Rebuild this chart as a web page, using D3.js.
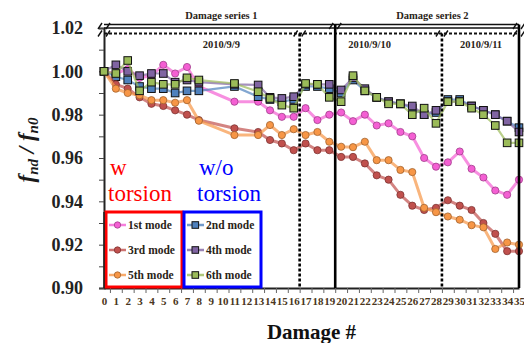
<!DOCTYPE html>
<html>
<head>
<meta charset="utf-8">
<script src="https://cdn.jsdelivr.net/npm/d3@7"></script>
<style>
  body { margin: 0; background: #fff; }
  svg { display: block; }
  text { font-family: "Liberation Serif", "DejaVu Serif", serif; }
</style>
</head>
<body>
<div id="chart"></div>
<script>
// damage cases on the x axis
const damage = [0,1,2,3,4,5,6,7,8,9,10,11,12,13,14,15,16,17,18,19,20,21,22,23,24,25,26,27,28,29,30,31,32,33,34,35];

// frequency ratio f_nd / f_n0 for each mode (null = case not measured)
const mode1 = [1.000,0.999,1.001,0.997,0.998,1.003,0.999,1.002,0.993,null,null,0.986,null,0.986,0.982,0.979,0.979,0.983,0.9775,0.980,0.981,0.977,0.980,0.975,0.976,0.972,0.970,0.960,0.956,0.958,0.963,0.955,0.951,0.945,0.943,0.950];
const mode2 = [1.000,0.9975,0.996,0.993,0.992,0.992,0.990,0.991,0.991,null,null,0.993,null,0.9883,0.987,0.986,0.987,0.993,0.993,0.992,0.990,0.996,0.991,0.988,0.986,0.985,0.983,0.980,0.981,0.987,0.987,0.984,0.982,0.980,0.977,0.974];
const mode3 = [1.000,0.994,0.992,0.988,0.985,0.984,0.982,0.980,0.9775,null,null,0.9737,null,0.972,0.9683,0.9667,0.9636,0.9667,0.9636,0.9636,0.9605,0.9605,0.9575,0.952,0.950,0.943,0.938,0.936,0.937,0.9405,0.938,0.936,0.930,0.925,0.917,0.917];
const mode4 = [1.000,1.003,1.000,0.998,0.999,0.999,0.995,0.996,0.995,null,null,0.994,null,0.9937,0.988,0.9875,0.9883,0.994,0.994,0.994,0.9914,0.997,0.992,0.988,0.986,0.985,0.984,0.980,0.982,0.986,0.986,0.984,0.982,0.980,0.977,0.972];
const mode5 = [1.000,0.992,0.990,0.989,0.9867,0.9867,0.9855,0.9867,0.9772,null,null,0.9706,null,0.9706,0.9752,0.9706,0.9733,0.9706,0.972,0.9675,0.9652,0.965,0.9675,0.959,0.959,0.9545,0.9535,0.937,0.935,0.933,0.9315,0.929,0.928,0.918,0.921,0.920];
const mode6 = [1.000,0.999,1.005,0.991,0.995,0.994,0.994,0.997,0.996,null,null,0.9944,null,0.9906,0.9875,0.9844,0.983,0.9944,0.994,0.988,0.986,0.998,0.991,0.988,0.985,0.985,0.980,0.983,0.976,0.986,0.986,0.983,0.980,0.975,0.967,0.967];

const modeNames = ["1st mode","2nd mode","3rd mode","4th mode","5th mode","6th mode"];
const yTicks = [0.90,0.91,0.92,0.93,0.94,0.95,0.96,0.97,0.98,0.99,1.00,1.01,1.02];

// breaks between damage series (solid) and between test days (dashed)
const seriesBreaks = [19.5];
const dayBreaks = [16.5, 28.5];
const seriesLabels = ["Damage series 1","Damage series 2"];
const dayLabels = ["2010/9/9","2010/9/10","2010/9/11"];

const width = 524, height = 343;
const svg = d3.select('#chart').append('svg')
    .attr('width', width)
    .attr('height', height);

const x = d3.scaleLinear().domain([0, 35]).range([104, 519]);
const y = d3.scaleLinear().domain([0.90, 1.02]).range([288, 28]);

const series = [
    { name: modeNames[0], values: mode1, color: '#f45fd3', shape: 'circle' },
    { name: modeNames[1], values: mode2, color: '#4f81bd', shape: 'square' },
    { name: modeNames[2], values: mode3, color: '#c0504d', shape: 'circle' },
    { name: modeNames[3], values: mode4, color: '#8064a2', shape: 'square' },
    { name: modeNames[4], values: mode5, color: '#f79646', shape: 'circle' },
    { name: modeNames[5], values: mode6, color: '#9bbb59', shape: 'square' }
];

// y axis
const yAxis = svg.append('g')
    .attr('transform', `translate(${x(0)},0)`)
    .call(d3.axisLeft(y)
        .tickValues(yTicks)
        .tickSize(5)
        .tickPadding(16)
        .tickFormat(d => Math.round(d * 100) % 2 === 0 ? d3.format('.2f')(d) : ''));
yAxis.select('.domain').attr('stroke', '#222').attr('stroke-width', 2);
yAxis.selectAll('.tick line').attr('stroke', '#444');
yAxis.selectAll('.tick text')
    .style('font-size', '18px')
    .style('font-weight', 'bold')
    .attr('fill', '#222');

// x axis: labels on categories, ticks between them
const xAxis = svg.append('g')
    .attr('transform', `translate(0,${y(0.90)})`)
    .call(d3.axisBottom(x)
        .tickValues(damage)
        .tickSize(0)
        .tickPadding(9)
        .tickFormat(d3.format('d')));
xAxis.select('.domain').attr('stroke', '#222').attr('stroke-width', 2);
xAxis.selectAll('.tick text')
    .style('font-size', '11px')
    .style('font-weight', 'bold')
    .attr('fill', '#4a3620');

svg.append('g')
    .attr('transform', `translate(0,${y(0.90)})`)
    .call(d3.axisBottom(x)
        .tickValues(damage.slice(1).map(d => d - 0.5))
        .tickSize(5)
        .tickFormat(''))
    .call(g => g.select('.domain').remove())
    .selectAll('.tick line').attr('stroke', '#666');

// series (gaps are bridged, as in the original)
const line = d3.line()
    .x(d => x(d[0]))
    .y(d => y(d[1]));

series.forEach(s => {
    const pts = damage.map((d, i) => [d, s.values[i]]).filter(p => p[1] != null);
    const g = svg.append('g');
    g.append('path')
        .datum(pts)
        .attr('fill', 'none')
        .attr('stroke', s.color)
        .attr('stroke-opacity', 0.7)
        .attr('stroke-width', s.shape === 'circle' ? 3 : 2.2)
        .attr('d', line);
    if (s.shape === 'circle') {
        g.selectAll('circle')
            .data(pts)
            .enter().append('circle')
            .attr('cx', d => x(d[0]))
            .attr('cy', d => y(d[1]))
            .attr('r', 3.6)
            .attr('fill', s.color)
            .attr('stroke', d3.color(s.color).darker(1.2))
            .attr('stroke-width', 0.8);
    } else {
        g.selectAll('rect')
            .data(pts)
            .enter().append('rect')
            .attr('x', d => x(d[0]) - 3.8)
            .attr('y', d => y(d[1]) - 3.8)
            .attr('width', 7.6)
            .attr('height', 7.6)
            .attr('fill', s.color)
            .attr('stroke', '#111')
            .attr('stroke-width', 1);
    }
});

// top bracket lines
const topY = y(1.02);
svg.append('line')
    .attr('x1', x(0)).attr('x2', x(35))
    .attr('y1', topY).attr('y2', topY)
    .attr('stroke', '#111').attr('stroke-width', 1.6);
svg.append('line')
    .attr('x1', x(0)).attr('x2', x(35))
    .attr('y1', topY - 3.5).attr('y2', topY - 3.5)
    .attr('stroke', '#111').attr('stroke-width', 1.6);
svg.append('line')
    .attr('x1', x(0)).attr('x2', x(35))
    .attr('y1', topY + 5.5).attr('y2', topY + 5.5)
    .attr('stroke', '#111').attr('stroke-width', 2)
    .attr('stroke-dasharray', '3,2');

// vertical separators
seriesBreaks.concat([35]).forEach(b => {
    svg.append('line')
        .attr('x1', x(b)).attr('x2', x(b))
        .attr('y1', topY - 3.5).attr('y2', y(0.90))
        .attr('stroke', '#000').attr('stroke-width', 2.6);
});
dayBreaks.forEach(b => {
    svg.append('line')
        .attr('x1', x(b)).attr('x2', x(b))
        .attr('y1', topY + 5.5).attr('y2', y(0.90))
        .attr('stroke', '#000').attr('stroke-width', 2.6)
        .attr('stroke-dasharray', '3,2');
});

// break marks on the bracket lines
function breakMark(cx, cy) {
    svg.append('path')
        .attr('d', `M${cx - 6},${cy + 3}L${cx - 2},${cy - 3}M${cx + 2},${cy + 3}L${cx + 6},${cy - 3}`)
        .attr('stroke', '#111').attr('stroke-width', 1.4).attr('fill', 'none');
}
[0].concat(seriesBreaks, [35]).forEach(b => breakMark(x(b), topY - 2));
[0].concat(dayBreaks, [35]).forEach(b => breakMark(x(b), topY + 5.5));

// bracket labels
const labelStyle = sel => sel
    .attr('text-anchor', 'middle')
    .style('font-size', '10.5px')
    .style('font-weight', 'bold')
    .attr('fill', '#2a2418');
[9.9, 27.7].forEach((c, i) => {
    svg.append('text').attr('x', x(c)).attr('y', 18.5).text(seriesLabels[i]).call(labelStyle);
});
[9.9, 22.4, 31.8].forEach((c, i) => {
    svg.append('text').attr('x', x(c)).attr('y', 48).text(dayLabels[i]).call(labelStyle);
});

// torsion annotations
[['w', 'torsion', '#ff0000', 108], ['w/o', 'torsion', '#0000ff', 197]].forEach(([a, b, c, tx]) => {
    svg.append('text').attr('x', tx + 2).attr('y', 175).attr('fill', c)
        .style('font-size', '23px').text(a);
    svg.append('text').attr('x', tx).attr('y', 201).attr('fill', c)
        .style('font-size', '23px').text(b);
});

// legend boxes
const legendCols = [
    { x0: 106, x1: 182, stroke: '#ff0000', items: [series[0], series[2], series[4]] },
    { x0: 184, x1: 261, stroke: '#0000ff', items: [series[1], series[3], series[5]] }
];
legendCols.forEach(col => {
    svg.append('rect')
        .attr('x', col.x0).attr('y', 212)
        .attr('width', col.x1 - col.x0).attr('height', 75)
        .attr('fill', '#fff')
        .attr('stroke', col.stroke).attr('stroke-width', 3);
    col.items.forEach((s, i) => {
        const ly = 225 + i * 25;
        const lx = col.x0 + 3;
        svg.append('line')
            .attr('x1', lx).attr('x2', lx + 17)
            .attr('y1', ly).attr('y2', ly)
            .attr('stroke', s.color).attr('stroke-width', 2.5).attr('stroke-opacity', 0.8);
        if (s.shape === 'circle') {
            svg.append('circle').attr('cx', lx + 8.5).attr('cy', ly).attr('r', 3.2)
                .attr('fill', s.color).attr('stroke', d3.color(s.color).darker(1.2)).attr('stroke-width', 0.8);
        } else {
            svg.append('rect').attr('x', lx + 5).attr('y', ly - 3.3).attr('width', 6.6).attr('height', 6.6)
                .attr('fill', s.color).attr('stroke', '#111');
        }
        svg.append('text')
            .attr('x', lx + 19).attr('y', ly + 4)
            .style('font-size', '11.5px').style('font-weight', 'bold')
            .attr('fill', '#2a2418')
            .text(s.name);
    });
});
// y axis drawn over the legend box edge
svg.append('line')
    .attr('x1', x(0)).attr('x2', x(0))
    .attr('y1', 212).attr('y2', y(0.90))
    .attr('stroke', '#222').attr('stroke-width', 1.5);

// axis titles
const yl = svg.append('text')
    .attr('transform', 'translate(34,150) rotate(-90)')
    .attr('text-anchor', 'middle')
    .style('font-style', 'italic')
    .style('font-weight', 'bold')
    .style('font-size', '23px')
    .attr('fill', '#1a1a1a');
yl.append('tspan').text('f');
yl.append('tspan').attr('dy', 4).style('font-size', '15px').text('nd');
yl.append('tspan').attr('dy', -4).text(' / f');
yl.append('tspan').attr('dy', 4).style('font-size', '15px').text('n0');

svg.append('text')
    .attr('x', (x(0) + x(35)) / 2)
    .attr('y', 339)
    .attr('text-anchor', 'middle')
    .style('font-size', '21px')
    .style('font-weight', 'bold')
    .attr('fill', '#111')
    .text('Damage #');
</script>
</body>
</html>
